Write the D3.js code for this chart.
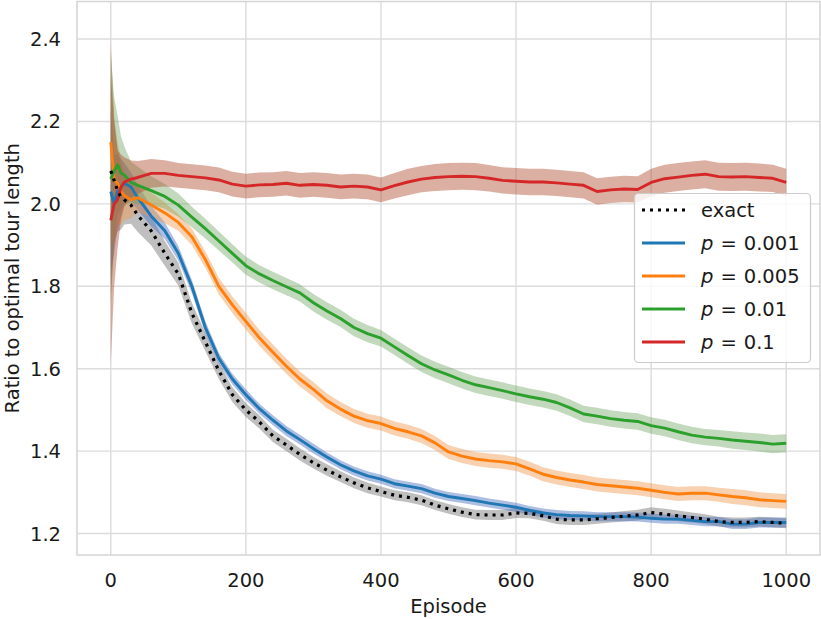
<!DOCTYPE html>
<html>
<head>
<meta charset="utf-8">
<script src="https://cdn.jsdelivr.net/npm/d3@7"></script>
<style>
  html, body { margin: 0; padding: 0; background: #fff; }
  svg { display: block; }
  text { font-family: "DejaVu Sans", sans-serif; fill: #1a1a1a; }
</style>
</head>
<body>
<svg id="chart" width="821" height="619"></svg>
<script>
const episodes = [0,5,10,15,20,30,40,60,80,100,120,140,160,180,200,220,240,260,280,300,320,340,360,380,400,420,440,460,480,500,520,540,560,580,600,620,640,660,680,700,720,740,760,780,800,820,840,860,880,900,920,940,960,980,1000];

const exactMean = [2.08,2.057,2.033,2.017,2.01,1.997,1.972,1.934,1.88,1.83,1.735,1.665,1.595,1.537,1.50,1.471,1.437,1.415,1.392,1.372,1.354,1.338,1.323,1.311,1.302,1.293,1.288,1.281,1.269,1.26,1.252,1.246,1.245,1.245,1.25,1.249,1.243,1.235,1.233,1.233,1.236,1.239,1.242,1.245,1.251,1.247,1.243,1.239,1.235,1.229,1.227,1.227,1.229,1.227,1.225];
const exactErr  = [0.30,0.15,0.10,0.08,0.06,0.045,0.04,0.035,0.03,0.028,0.025,0.022,0.02,0.018,0.017,0.016,0.015,0.015,0.015,0.014,0.014,0.013,0.013,0.013,0.012,0.012,0.012,0.012,0.012,0.012,0.012,0.012,0.012,0.012,0.012,0.012,0.012,0.012,0.012,0.012,0.012,0.012,0.013,0.013,0.013,0.013,0.013,0.012,0.012,0.012,0.012,0.012,0.012,0.012,0.012];

const p001Mean = [2.03,2.0,2.03,2.04,2.05,2.041,2.015,1.97,1.935,1.88,1.80,1.70,1.625,1.575,1.537,1.503,1.475,1.449,1.428,1.406,1.386,1.367,1.352,1.34,1.332,1.321,1.315,1.309,1.298,1.29,1.285,1.28,1.274,1.269,1.264,1.256,1.25,1.246,1.244,1.243,1.241,1.241,1.241,1.24,1.237,1.235,1.235,1.232,1.229,1.229,1.223,1.223,1.227,1.227,1.227];
const p001Err  = [0.20,0.12,0.09,0.07,0.05,0.035,0.03,0.025,0.02,0.018,0.016,0.015,0.013,0.013,0.013,0.012,0.012,0.012,0.012,0.012,0.011,0.011,0.011,0.011,0.011,0.011,0.011,0.011,0.011,0.011,0.011,0.011,0.011,0.011,0.011,0.011,0.011,0.011,0.011,0.011,0.011,0.011,0.011,0.011,0.011,0.011,0.011,0.011,0.011,0.011,0.012,0.012,0.012,0.012,0.012];

const p005Mean = [2.15,2.06,2.05,2.03,2.02,2.01,2.015,1.997,1.978,1.955,1.92,1.865,1.80,1.755,1.715,1.675,1.64,1.606,1.575,1.55,1.522,1.502,1.485,1.474,1.467,1.455,1.447,1.437,1.42,1.398,1.388,1.381,1.377,1.374,1.369,1.357,1.344,1.336,1.33,1.325,1.319,1.316,1.313,1.31,1.305,1.3,1.296,1.298,1.298,1.294,1.29,1.287,1.282,1.28,1.278];
const p005Err  = [0.25,0.15,0.10,0.08,0.06,0.045,0.035,0.03,0.025,0.02,0.02,0.02,0.02,0.02,0.02,0.019,0.019,0.018,0.018,0.018,0.018,0.017,0.017,0.017,0.017,0.017,0.017,0.017,0.017,0.017,0.017,0.017,0.017,0.017,0.017,0.017,0.017,0.017,0.017,0.017,0.017,0.017,0.017,0.017,0.017,0.017,0.017,0.017,0.017,0.017,0.018,0.018,0.018,0.018,0.018];

const p01Mean = [2.06,2.08,2.095,2.075,2.07,2.052,2.045,2.032,2.018,1.997,1.968,1.94,1.91,1.88,1.85,1.83,1.814,1.799,1.784,1.76,1.74,1.722,1.70,1.685,1.674,1.653,1.632,1.612,1.597,1.585,1.572,1.561,1.554,1.547,1.539,1.532,1.526,1.518,1.505,1.49,1.485,1.479,1.475,1.472,1.462,1.456,1.447,1.439,1.434,1.431,1.427,1.424,1.421,1.417,1.419];
const p01Err  = [0.30,0.18,0.12,0.09,0.07,0.05,0.045,0.035,0.03,0.028,0.025,0.024,0.023,0.022,0.022,0.021,0.021,0.021,0.021,0.021,0.021,0.021,0.021,0.021,0.02,0.02,0.02,0.02,0.02,0.02,0.02,0.02,0.02,0.02,0.02,0.02,0.02,0.02,0.02,0.02,0.02,0.02,0.02,0.02,0.02,0.02,0.02,0.02,0.02,0.02,0.021,0.021,0.022,0.022,0.022];

const p1Mean = [1.96,2.0,2.01,2.04,2.053,2.06,2.064,2.074,2.074,2.069,2.066,2.063,2.058,2.048,2.043,2.046,2.047,2.05,2.045,2.047,2.045,2.041,2.043,2.041,2.034,2.044,2.053,2.06,2.064,2.066,2.067,2.066,2.062,2.057,2.055,2.053,2.053,2.051,2.048,2.045,2.03,2.034,2.036,2.035,2.052,2.061,2.065,2.069,2.072,2.066,2.065,2.066,2.064,2.062,2.052];
const p1Err  = [0.35,0.20,0.12,0.08,0.06,0.045,0.04,0.035,0.032,0.03,0.03,0.03,0.03,0.03,0.03,0.03,0.03,0.03,0.03,0.03,0.03,0.03,0.03,0.03,0.03,0.031,0.032,0.032,0.033,0.033,0.033,0.033,0.032,0.032,0.032,0.032,0.032,0.032,0.032,0.032,0.032,0.032,0.032,0.032,0.033,0.034,0.034,0.034,0.034,0.034,0.034,0.034,0.034,0.033,0.033];

const xTicks = [0,200,400,600,800,1000];
const yTicks = [1.2,1.4,1.6,1.8,2.0,2.2,2.4];

const legendLabels = [["", "exact"],["p","0.001"],["p","0.005"],["p","0.01"],["p","0.1"]];

const series = [
  {name:"exact", mean: exactMean, err: exactErr, line:"#000000", band:"#7f7f7f", bandOp:0.5, dash:"3,5"},
  {name:"p001", mean: p001Mean, err: p001Err, line:"#1f77b4", band:"#4a6fc0", bandOp:0.45, dash:null},
  {name:"p005", mean: p005Mean, err: p005Err, line:"#ff7f0e", band:"#ee9a4f", bandOp:0.45, dash:null},
  {name:"p01", mean: p01Mean, err: p01Err, line:"#2ca02c", band:"#6aa05a", bandOp:0.4, dash:null},
  {name:"p1", mean: p1Mean, err: p1Err, line:"#d62728", band:"#b05030", bandOp:0.45, dash:null}
];

const svg = d3.select("#chart");
const L = 77, R = 820, T = 1.5, B = 555;
const x = d3.scaleLinear().domain([-50, 1050]).range([L, R]);
const y = d3.scaleLinear().domain([1.148, 2.491]).range([B, T]);

const gridColor = "#dcdcdc";

const grid = svg.append("g");
grid.selectAll(".gx").data(xTicks).enter().append("line")
  .attr("x1", d => x(d)).attr("x2", d => x(d)).attr("y1", T).attr("y2", B)
  .attr("stroke", gridColor).attr("stroke-width", 1.4);
grid.selectAll(".gy").data(yTicks).enter().append("line")
  .attr("y1", d => y(d)).attr("y2", d => y(d)).attr("x1", L).attr("x2", R)
  .attr("stroke", gridColor).attr("stroke-width", 1.4);

svg.append("defs").append("clipPath").attr("id", "clip")
  .append("rect").attr("x", L).attr("y", T).attr("width", R - L).attr("height", B - T);

const plot = svg.append("g").attr("clip-path", "url(#clip)");

const area = (s) => d3.area()
  .x((d, i) => x(episodes[i]))
  .y0((d, i) => y(s.mean[i] - s.err[i]))
  .y1((d, i) => y(s.mean[i] + s.err[i]));
const line = (s) => d3.line()
  .x((d, i) => x(episodes[i]))
  .y((d, i) => y(s.mean[i]));

series.forEach(s => {
  plot.append("path").datum(s.mean).attr("d", area(s))
    .attr("fill", s.band).attr("fill-opacity", s.bandOp).attr("stroke", "none");
});
const lineOrder = [1,2,3,4,0];
lineOrder.forEach(k => {
  const s = series[k];
  const p = plot.append("path").datum(s.mean).attr("d", line(s))
    .attr("fill", "none").attr("stroke", s.line).attr("stroke-width", 2.9)
    .attr("stroke-linejoin", "round");
  if (s.dash) p.attr("stroke-dasharray", s.dash).attr("stroke-width", 3.2);
});

svg.append("rect").attr("x", L).attr("y", T).attr("width", R - L).attr("height", B - T)
  .attr("fill", "none").attr("stroke", "#d4d4d4").attr("stroke-width", 1.5);

const fs = 19.5;
svg.selectAll(".xt").data(xTicks).enter().append("text")
  .attr("x", d => x(d)).attr("y", 587).attr("text-anchor", "middle")
  .attr("font-size", fs).text(d => d);
svg.selectAll(".yt").data(yTicks).enter().append("text")
  .attr("x", 61).attr("y", d => y(d)).attr("dy", "0.36em").attr("text-anchor", "end")
  .attr("font-size", fs).text(d => d.toFixed(1));

svg.append("text").attr("x", (L + R) / 2).attr("y", 613).attr("text-anchor", "middle")
  .attr("font-size", fs).text("Episode");
svg.append("text").attr("transform", `translate(19,${(T + B) / 2}) rotate(-90)`)
  .attr("text-anchor", "middle").attr("font-size", fs).text("Ratio to optimal tour length");

const lg = svg.append("g");
lg.append("rect").attr("x", 634.5).attr("y", 193.5).attr("width", 176).attr("height", 169)
  .attr("rx", 4).attr("ry", 4).attr("fill", "#ffffff").attr("fill-opacity", 0.8)
  .attr("stroke", "#cccccc").attr("stroke-width", 1.2);
series.forEach((s, i) => {
  const yy = 210 + i * 33;
  const l = lg.append("line").attr("x1", 642).attr("x2", 685).attr("y1", yy).attr("y2", yy)
    .attr("stroke", s.line).attr("stroke-width", 2.9);
  if (s.dash) l.attr("stroke-dasharray", s.dash).attr("stroke-width", 3.2);
  const t = lg.append("text").attr("x", 701).attr("y", yy).attr("dy", "0.36em").attr("font-size", fs);
  const lab = legendLabels[i];
  if (lab[0] === "") {
    t.text(lab[1]);
  } else {
    t.append("tspan").attr("font-style", "italic").text(lab[0]);
    t.append("tspan").attr("dx", 7).text("=");
    t.append("tspan").attr("dx", 7).text(lab[1]);
  }
});
</script>
</body>
</html>
